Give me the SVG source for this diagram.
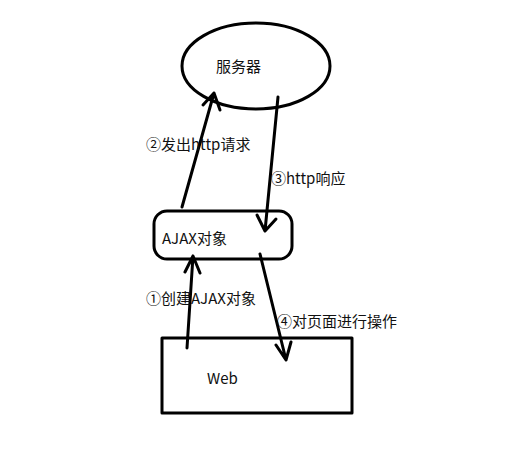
<svg xmlns="http://www.w3.org/2000/svg" width="525" height="461" viewBox="0 0 525 461">
<style>
.s{fill:none;stroke:#000;stroke-width:3;stroke-linecap:round;stroke-linejoin:round}
.t{font-family:"Noto Sans CJK SC","Liberation Sans",sans-serif;font-size:15px;fill:#111}
</style>
<rect width="525" height="461" fill="#fff"/>
<g id="server">
<ellipse class="s" cx="256" cy="66" rx="74" ry="43"/>
<text class="t" x="216" y="72">服务器</text>
</g>
<g id="ajax">
<rect class="s" x="154" y="211" width="138" height="48" rx="13"/>
<text class="t" x="162" y="244">AJAX对象</text>
</g>
<g id="web">
<rect class="s" x="162" y="338" width="190" height="75"/>
<text class="t" x="207" y="384">Web</text>
</g>
<g id="connectors">
<path class="s" d="M182 207 L214 93 M203 105 L214 93 L220 110"/>
<path class="s" d="M278 97 L265 231 M257 215 L265 231 L276 219"/>
<path class="s" d="M187 348 L193 256 M185 272 L193 256 L200 273"/>
<path class="s" d="M260 254 L286 360 M276 345 L286 360 L291 342"/>
</g>
<g id="labels">
<text class="t" x="146" y="150">②发出http请求</text>
<text class="t" x="271" y="184">③http响应</text>
<text class="t" x="146" y="304">①创建AJAX对象</text>
<text class="t" x="277" y="327">④对页面进行操作</text>
</g>
</svg>
